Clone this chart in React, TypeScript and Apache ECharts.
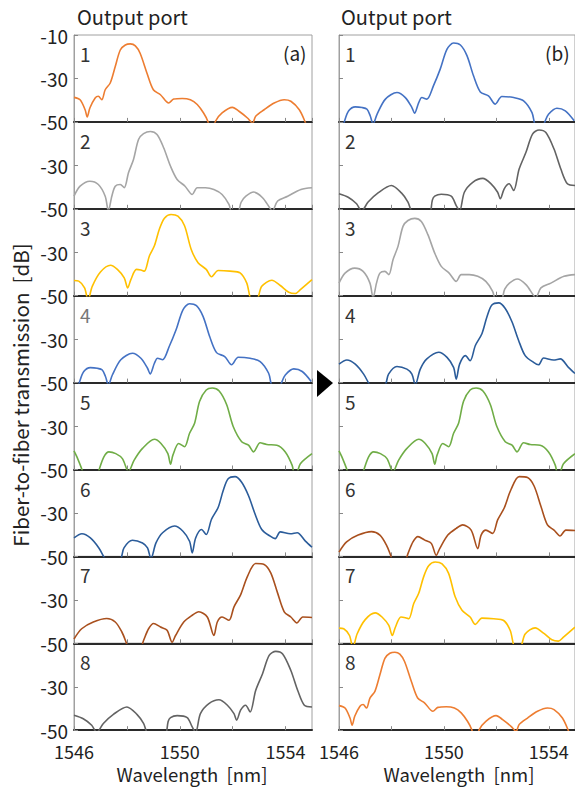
import React, { useEffect, useRef } from "react";
import * as echarts from "echarts";

type Pt = [number, number];

const X_MIN = 1546;
const X_MAX = 1555;
const Y_MIN = -50;
const Y_MAX = -10;
const xLabelValues = [1546, 1550, 1554];
const portNames = ["1", "2", "3", "4", "5", "6", "7", "8"];

const port1: Pt[] = [[1546.0,-38.7],[1546.23,-39.8],[1546.42,-44.4],[1546.5,-47.7],[1546.6,-43.6],[1546.8,-39],[1546.92,-38.2],[1547.05,-39.8],[1547.18,-35.2],[1547.37,-32.1],[1547.56,-24.5],[1547.75,-16.9],[1547.94,-14.6],[1548.13,-14.1],[1548.32,-15],[1548.5,-18.4],[1548.76,-27.6],[1549.0,-35.2],[1549.27,-37.5],[1549.58,-41.3],[1549.77,-39.5],[1550.09,-39.2],[1550.4,-39.8],[1550.66,-42],[1550.9,-45.9],[1551.06,-49.7],[1551.2,-56],[1551.35,-49.7],[1551.6,-45.9],[1551.99,-43.3],[1552.24,-45.1],[1552.56,-48.2],[1552.75,-50.5],[1552.87,-47.4],[1553.19,-44.4],[1553.57,-41.3],[1553.95,-39.8],[1554.2,-40.5],[1554.52,-44.4],[1554.73,-49.7],[1554.85,-54]];
const port2: Pt[] = [[1546,-44.2],[1546.23,-39.6],[1546.6,-37.3],[1546.92,-38.8],[1547.18,-44.2],[1547.3,-51],[1547.43,-44.2],[1547.56,-39.6],[1547.75,-38.8],[1547.9,-40.3],[1548.06,-33.4],[1548.25,-27.3],[1548.44,-18.1],[1548.63,-15.4],[1548.89,-14.4],[1549.14,-15.8],[1549.39,-21.9],[1549.65,-30.4],[1549.9,-36.5],[1550.2,-39.6],[1550.47,-43.4],[1550.66,-40.3],[1550.97,-40.3],[1551.29,-41.1],[1551.6,-43.4],[1551.86,-48],[1552.0,-53],[1552.2,-52],[1552.32,-47],[1552.5,-44.2],[1552.8,-42.3],[1553.13,-44.9],[1553.4,-49.5],[1553.5,-51],[1553.7,-46.4],[1554.08,-44.2],[1554.58,-41.1],[1555.0,-40.3]];
const port3: Pt[] = [[1546,-43],[1546.18,-43.3],[1546.4,-46.4],[1546.53,-52],[1546.69,-45.7],[1547.0,-39.1],[1547.38,-36],[1547.64,-37.9],[1547.9,-41.8],[1548.03,-46.4],[1548.15,-42.6],[1548.36,-37.9],[1548.53,-38.2],[1548.66,-38.7],[1548.85,-31.7],[1549.04,-27],[1549.23,-19.3],[1549.42,-14.3],[1549.67,-12.6],[1549.93,-13.4],[1550.18,-17.8],[1550.43,-28.6],[1550.69,-34.8],[1551.0,-37.9],[1551.2,-41.3],[1551.45,-38.4],[1551.9,-38.7],[1552.28,-39.5],[1552.53,-44.1],[1552.72,-52],[1552.9,-52],[1553.1,-45.7],[1553.48,-42.9],[1553.8,-45.3],[1554.12,-48.4],[1554.37,-49],[1554.56,-47.2],[1555.0,-42.6]];
const port4: Pt[] = [[1546.05,-56],[1546.2,-50],[1546.37,-44.9],[1546.62,-43.1],[1546.88,-43.4],[1547.07,-44.2],[1547.19,-47.2],[1547.3,-51],[1547.45,-46.5],[1547.77,-39.5],[1548.21,-36.5],[1548.53,-38.8],[1548.78,-43.4],[1548.88,-46],[1549.04,-41.1],[1549.16,-38.8],[1549.35,-39.5],[1549.6,-33.4],[1549.86,-25.7],[1550.12,-16.5],[1550.37,-13.7],[1550.63,-14.6],[1550.88,-19.5],[1551.13,-28.8],[1551.39,-36.2],[1551.7,-38],[1551.96,-41.8],[1552.21,-38.3],[1552.66,-38.8],[1553.04,-40.3],[1553.36,-45.7],[1553.5,-52],[1553.75,-53],[1553.85,-50],[1553.99,-46.5],[1554.31,-43.7],[1554.63,-44.9],[1554.97,-49.5]];
const port5: Pt[] = [[1546,-41.4],[1546.11,-44.2],[1546.3,-50],[1546.45,-56],[1546.8,-56],[1546.94,-50.5],[1547.13,-44.2],[1547.32,-41.9],[1547.58,-42.7],[1547.83,-45],[1548.06,-51],[1548.27,-45.8],[1548.59,-40.3],[1549.04,-36.1],[1549.29,-38],[1549.55,-42.7],[1549.65,-47.6],[1549.74,-43.4],[1549.96,-38],[1550.18,-39.5],[1550.37,-33.3],[1550.56,-28.7],[1550.75,-18.6],[1551.0,-13.4],[1551.23,-12.5],[1551.49,-13.9],[1551.77,-20.1],[1552.02,-30.2],[1552.34,-37.2],[1552.6,-38.8],[1552.79,-41.9],[1553.04,-37.7],[1553.29,-38.5],[1553.67,-38.8],[1553.99,-41.9],[1554.25,-48.1],[1554.35,-53],[1554.45,-51],[1554.56,-47.3],[1555.0,-42.7]];
const port6: Pt[] = [[1546,-41.5],[1546.3,-39.6],[1546.62,-41.5],[1546.94,-46.1],[1547.17,-51],[1547.45,-55],[1547.77,-51],[1547.89,-46.1],[1548.21,-42.6],[1548.59,-43.8],[1548.78,-46.1],[1548.91,-51],[1549.1,-43.8],[1549.35,-39.1],[1549.8,-36],[1550.12,-38.4],[1550.37,-43],[1550.47,-48.4],[1550.6,-41.5],[1550.82,-37.6],[1551.0,-39.9],[1551.2,-32.9],[1551.45,-27.5],[1551.64,-19.8],[1551.83,-14.3],[1552.09,-13.3],[1552.34,-15.9],[1552.6,-22.1],[1552.85,-30.6],[1553.1,-37.6],[1553.42,-40.7],[1553.61,-41.8],[1553.8,-38.7],[1554.18,-39.6],[1554.44,-39.1],[1554.75,-43],[1555.0,-45.8]];
const port7: Pt[] = [[1546,-48],[1546.29,-43.3],[1546.73,-40.2],[1547.24,-38.6],[1547.56,-40.2],[1547.81,-44.8],[1547.97,-49.5],[1548.1,-54],[1548.45,-54],[1548.63,-48.7],[1548.82,-43.3],[1549.01,-40.9],[1549.27,-42.5],[1549.52,-44],[1549.71,-49.5],[1549.84,-46.4],[1550.15,-40.2],[1550.47,-37.1],[1550.72,-35.5],[1551.04,-37.9],[1551.29,-46.4],[1551.42,-40.2],[1551.6,-37.9],[1551.86,-39.4],[1552.05,-33.2],[1552.3,-27.7],[1552.56,-19.2],[1552.87,-13.3],[1553.19,-13.7],[1553.44,-17.6],[1553.7,-26.9],[1553.95,-35.5],[1554.2,-37.9],[1554.43,-40.6],[1554.65,-37.9],[1555.0,-38.1]];
const port8: Pt[] = [[1546,-43.1],[1546.35,-44.7],[1546.67,-47.7],[1546.86,-51],[1547.11,-46.9],[1547.49,-42.7],[1548.0,-39.3],[1548.38,-42.7],[1548.63,-46.9],[1548.76,-51],[1549.1,-56],[1549.45,-53],[1549.56,-46],[1549.65,-44.2],[1549.9,-43.3],[1550.28,-44.2],[1550.47,-48.5],[1550.6,-51],[1550.78,-42.4],[1551.1,-37.8],[1551.48,-36],[1551.8,-38.5],[1552.05,-42.4],[1552.15,-45.4],[1552.3,-40.8],[1552.49,-38.5],[1552.66,-41.6],[1552.87,-31.7],[1553.13,-24],[1553.38,-15.6],[1553.63,-13.7],[1553.89,-14.9],[1554.2,-22.5],[1554.46,-31.7],[1554.71,-38.5],[1555.0,-39.3]];

const spectra = [port1, port2, port3, port4, port5, port6, port7, port8];
const spectrumColors = ["#ED7D31", "#A5A5A5", "#FFC000", "#4472C4", "#70AD47", "#2B5C9A", "#A9501E", "#636363"];
// which spectrum appears at each output port in (a) and (b)
const orderA = [0, 1, 2, 3, 4, 5, 6, 7];
const orderB = [3, 7, 1, 5, 4, 6, 2, 0];

const FONT = "'Noto Sans CJK JP', 'Noto Sans', sans-serif";

export default function App() {
  const ref = useRef<HTMLDivElement>(null);
  useEffect(() => {
    if (!ref.current) return;
    const chart = echarts.init(ref.current, undefined, { renderer: "svg" });
    const PANEL_TOP = 35;
    const PANEL_H = 86.9;
    const cols = [
      { left: 74, width: 238, order: orderA, labels: true },
      { left: 339, width: 236, order: orderB, labels: false },
    ];
    const grid: any[] = [];
    const xAxis: any[] = [];
    const yAxis: any[] = [];
    const series: any[] = [];
    const graphic: any[] = [];
    cols.forEach((c, ci) => {
      for (let i = 0; i < 8; i++) {
        const idx = grid.length;
        grid.push({
          left: c.left, width: c.width, top: PANEL_TOP + i * PANEL_H, height: PANEL_H,
          show: true, borderColor: "#a0a0a0", borderWidth: 1, backgroundColor: "transparent",
        });
        xAxis.push({
          type: "value", gridIndex: idx, min: X_MIN, max: X_MAX, interval: 2,
          axisLine: { show: true, onZero: false, lineStyle: { color: "#2a2a2a", width: 2 } },
          axisTick: { show: true, inside: true, length: 4, lineStyle: { color: "#888" } },
          splitLine: { show: false },
          axisLabel: {
            show: i === 7, margin: 12, fontSize: 18, color: "#222", fontFamily: FONT,
            showMaxLabel: false,
            formatter: (v: number) => (xLabelValues.indexOf(v) >= 0 ? String(v) : ""),
          },
        });
        yAxis.push({
          type: "value", gridIndex: idx, min: Y_MIN, max: Y_MAX, interval: 20,
          axisLine: { show: true, lineStyle: { color: "#a0a0a0" } },
          axisTick: { show: true, inside: true, length: 4, lineStyle: { color: "#888" } },
          splitLine: { show: false },
          axisLabel: {
            show: c.labels, margin: 6, fontSize: 19, color: "#222", fontFamily: FONT,
            formatter: (v: number) => (v === Y_MAX && i > 0 ? "" : String(v)),
          },
        });
        const s = c.order[i];
        series.push({
          type: "line", xAxisIndex: idx, yAxisIndex: idx, data: spectra[s],
          showSymbol: false, symbol: "none", smooth: 0.3, clip: true, silent: true,
          lineStyle: { color: spectrumColors[s], width: 1.6 },
        });
        graphic.push({
          type: "text", left: c.left + 6, top: PANEL_TOP + i * PANEL_H + 9,
          style: { text: portNames[i], fontSize: 19, fill: ci === 0 && i === 3 ? "#777" : "#333", fontFamily: FONT },
        });
      }
    });
    graphic.push(
      { type: "text", left: 77, top: 6, style: { text: "Output port", fontSize: 20, fill: "#222", fontFamily: FONT } },
      { type: "text", left: 341, top: 6, style: { text: "Output port", fontSize: 20, fill: "#222", fontFamily: FONT } },
      { type: "text", left: 283, top: 43, style: { text: "(a)", fontSize: 19, fill: "#222", fontFamily: FONT } },
      { type: "text", left: 545, top: 43, style: { text: "(b)", fontSize: 19, fill: "#222", fontFamily: FONT } },
      { type: "text", x: 192, y: 774, style: { text: "Wavelength\u00a0 [nm]", fontSize: 18.5, fill: "#222", fontFamily: FONT, align: "center", verticalAlign: "middle" } },
      { type: "text", x: 459, y: 774, style: { text: "Wavelength\u00a0 [nm]", fontSize: 18.5, fill: "#222", fontFamily: FONT, align: "center", verticalAlign: "middle" } },
      { type: "text", x: 20, y: 395, rotation: Math.PI / 2, style: { text: "Fiber-to-fiber transmission\u00a0 [dB]", fontSize: 20.5, fill: "#222", fontFamily: FONT, align: "center", verticalAlign: "middle" } },
      { type: "polygon", shape: { points: [[317, 370], [317, 397], [333, 383]] }, style: { fill: "#000" } },
    );
    chart.setOption({ animation: false, backgroundColor: "#fff", grid, xAxis, yAxis, series, graphic });
    return () => chart.dispose();
  }, []);
  return <div ref={ref} style={{ position: "fixed", left: 0, top: 0, width: 575, height: 787 }} />;
}
